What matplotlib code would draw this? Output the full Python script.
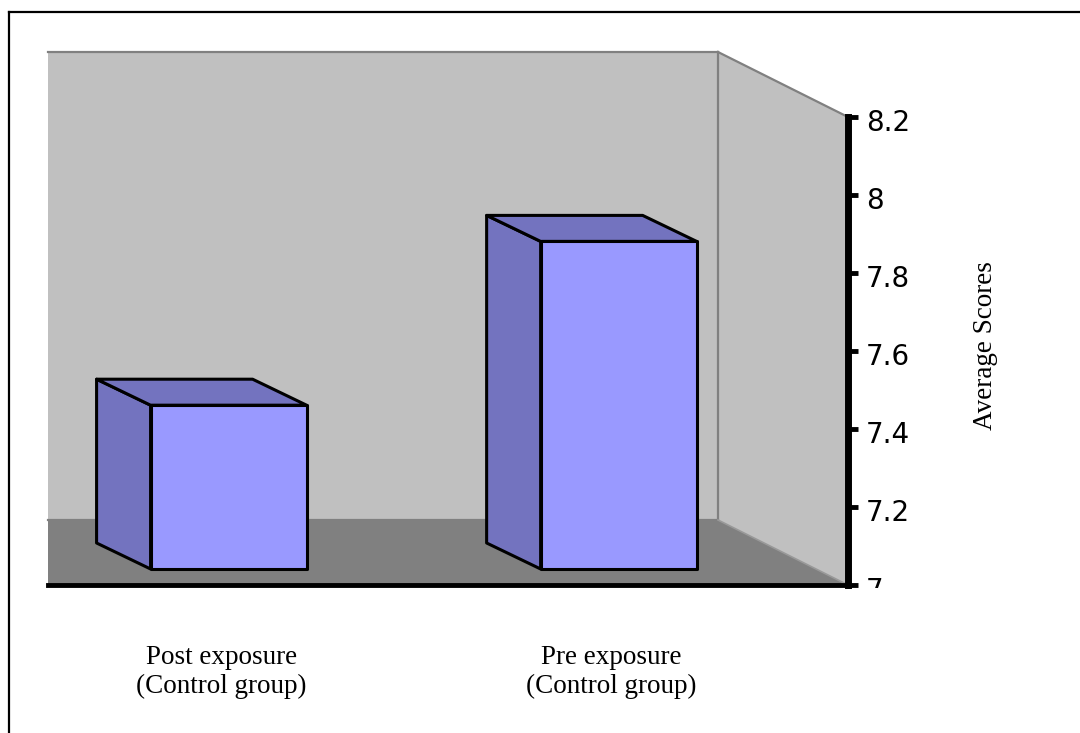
import matplotlib
matplotlib.use('Agg')
import matplotlib.pyplot as plt
from matplotlib.patches import Polygon
from matplotlib.lines import Line2D
from matplotlib.transforms import Bbox, TransformedBbox, ScaledTranslation

groups = ['Post exposure\n(Control group)', 'Pre exposure\n(Control group)']
scores = [7.42, 7.84]
yticks = [7, 7.2, 7.4, 7.6, 7.8, 8, 8.2]
ytick_labels = ['7', '7.2', '7.4', '7.6', '7.8', '8', '8.2']

W, H = 1080, 733
fig = plt.figure(figsize=(W / 100, H / 100), dpi=100)

# front plane of the box, in pixels
L, R, T, B = 48, 848, 117, 585
ax = fig.add_axes([L / W, 1 - B / H, (R - L) / W, (B - T) / H])
ax.set_xlim(-0.463, 1.588)
ax.set_ylim(7, 8.2)
ax.patch.set_visible(False)

x0, x1 = ax.get_xlim()
y0, y1 = ax.get_ylim()
sx = (R - L) / (x1 - x0)
sy = (B - T) / (y1 - y0)

def off(dx, dy):
    # pixel offset -> data offset
    return dx / sx, dy / sy

wall_c = '#c0c0c0'
floor_c = '#808080'
edge_c = '#808080'

# walls and floor, pushed back in depth
wx, wy = off(-130, 65)
back = [(x0, y0 + wy), (x1 + wx, y0 + wy), (x1 + wx, y1 + wy), (x0, y1 + wy)]
side = [(x1 + wx, y0 + wy), (x1, y0), (x1, y1), (x1 + wx, y1 + wy)]
floor = [(x0, y0), (x1, y0), (x1 + wx, y0 + wy), (x0, y0 + wy)]
for pts, c in [(back, wall_c), (side, wall_c), (floor, floor_c)]:
    ax.add_patch(Polygon(pts, closed=True, facecolor=c, edgecolor='none',
                         clip_on=False, zorder=1))

edges = [
    [(x0, y1 + wy), (x1 + wx, y1 + wy)],
    [(x1 + wx, y0 + wy), (x1 + wx, y1 + wy)],
    [(x1 + wx, y1 + wy), (x1, y1)],
    [(x0, y0 + wy), (x1 + wx, y0 + wy)],
]
for e in edges:
    ax.plot([p[0] for p in e], [p[1] for p in e], color=edge_c, lw=1.6,
            clip_on=False, zorder=2)
ax.plot([x1 + wx, x1], [y0 + wy, y0], color='#999999', lw=1.2,
        clip_on=False, zorder=2)

# 3d bars
front_c = '#9999ff'
shade_c = '#7373bf'
bw = 0.4
fx, fy = off(0, 16)
bx, by = off(-54, 42)
for i, v in enumerate(scores):
    xl, xr = i - bw / 2, i + bw / 2
    top = [(xl, v + fy), (xr, v + fy), (xr + bx, v + by), (xl + bx, v + by)]
    left = [(xl, y0 + fy), (xl, v + fy), (xl + bx, v + by), (xl + bx, y0 + by)]
    face = [(xl, y0 + fy), (xr, y0 + fy), (xr, v + fy), (xl, v + fy)]
    for pts, c in [(left, shade_c), (top, shade_c), (face, front_c)]:
        ax.add_patch(Polygon(pts, closed=True, facecolor=c, edgecolor='black',
                             lw=2.2, joinstyle='round', clip_on=False, zorder=3))

# axes
for s in ['left', 'top']:
    ax.spines[s].set_visible(False)
ax.spines['right'].set_linewidth(5)
ax.spines['bottom'].set_linewidth(3.5)
ax.spines['right'].set_zorder(4)
ax.spines['bottom'].set_zorder(4)

ax.yaxis.tick_right()
ax.set_yticks(yticks)
ax.set_yticklabels(ytick_labels, family='DejaVu Sans', fontsize=20)
ax.tick_params(axis='y', direction='out', length=7, width=3.5, pad=6)

ax.set_xticks(range(len(groups)))
ax.set_xticklabels(groups, family='Liberation Serif', fontsize=19.5,
                   linespacing=1.2)
ax.tick_params(axis='x', length=0, pad=43)

# the lowest label is cut off by the plot area
clip = TransformedBbox(Bbox([[0, (H - 588) / H], [1, 1]]), fig.transFigure)
ynudge = ScaledTranslation(0, -3 / 100, fig.dpi_scale_trans)
for tick in ax.yaxis.get_major_ticks():
    tick.label2.set_transform(tick.label2.get_transform() + ynudge)
    tick.label2.set_clip_on(True)
    tick.label2.set_clip_box(clip)

xnudge = ScaledTranslation(-7 / 100, 0, fig.dpi_scale_trans)
for tick in ax.xaxis.get_major_ticks():
    tick.label1.set_transform(tick.label1.get_transform() + xnudge)

fig.text(985 / W, 1 - 346 / H, 'Average Scores', rotation=90, ha='center',
         va='center', family='Liberation Serif', fontsize=19.5)

# outer frame (only left and top visible)
fig.add_artist(Line2D([9 / W, 9 / W], [0, 1 - 12 / H], color='black', lw=1.6,
                      transform=fig.transFigure))
fig.add_artist(Line2D([9 / W, 1], [1 - 12 / H, 1 - 12 / H], color='black', lw=1.6,
                      transform=fig.transFigure))

fig.savefig('out.png', dpi=100)
